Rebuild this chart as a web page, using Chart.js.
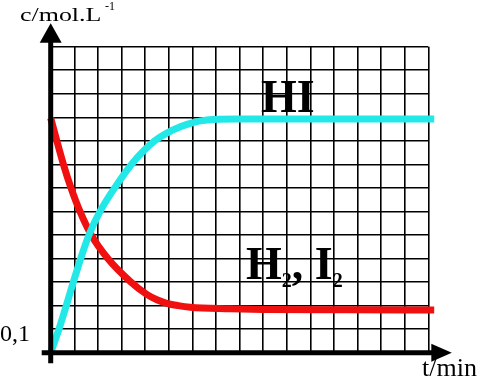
<!DOCTYPE html>
<html>
<head>
<meta charset="utf-8">
<script src="https://cdn.jsdelivr.net/npm/chart.js@4.4.0/dist/chart.umd.min.js"></script>
<style>
body { margin: 0; background: #fff; }
#wrap { position: relative; width: 479px; height: 377px; overflow: hidden; font-family: "Liberation Serif", "Times New Roman", serif; color: #000; }
#wrap canvas { position: absolute; left: 0; top: 0; }
.lbl { position: absolute; white-space: nowrap; }
</style>
</head>
<body>
<div id="wrap">
<canvas id="myChart" width="479" height="377"></canvas>
<div class="lbl" style="left:20px; top:5px; font-size:19.5px; line-height:19.5px; transform:scaleX(1.33); transform-origin:0 0;">c/mol.L</div>
<div class="lbl" style="left:105px; top:0px; font-size:12px; line-height:12px;">-1</div>
<div class="lbl" style="left:0px; top:321px; font-size:24px; line-height:24px;">0,1</div>
<div class="lbl" style="left:422px; top:355px; font-size:26px; line-height:26px;">t/min</div>
<div class="lbl" style="left:261px; top:74px; font-size:46px; line-height:46px; font-weight:bold;">HI</div>
<div class="lbl" style="left:246px; top:241px; font-size:46px; line-height:46px; font-weight:bold;">H<span style="font-size:20px; position:relative; top:8px;">2</span>, I<span style="font-size:20px; position:relative; top:8px;">2</span></div>
</div>
<script>
// HI concentration (grid units) over time (grid units)
const tHI = [0, 0.35, 0.66, 0.96, 1.27, 1.62, 2.09, 2.71, 3.42, 4.41, 5.49, 6.62, 7.89, 10, 13, 16.25];
const cHI = [0, 1.0, 2.0, 3.0, 4.0, 5.0, 6.0, 7.0, 8.0, 9.0, 9.6, 9.89, 9.93, 9.93, 9.93, 9.93];

// H2, I2
const tH2 = [0, 0.26, 0.54, 0.86, 1.24, 1.72, 2.42, 3.4, 4.07, 4.5, 4.92, 5.4, 5.91, 7.61, 9.0, 12.5, 16.25];
const cH2 = [9.97, 9.0, 8.0, 7.0, 6.0, 5.0, 4.0, 3.0, 2.48, 2.25, 2.1, 2.0, 1.93, 1.87, 1.84, 1.82, 1.81];

const xMax = 16;
const yMax = 13;

function punkti(t, c){
    return t.map((v, i) => ({x: v, y: c[i]}));
}

// thick axes with arrows
const strelice = {
    id: 'strelice',
    afterDatasetsDraw(chart){
        const ctx = chart.ctx;
        const a = chart.chartArea;
        ctx.save();
        ctx.fillStyle = '#000';
        ctx.strokeStyle = '#000';
        ctx.lineWidth = 5;
        // y axis
        ctx.beginPath();
        ctx.moveTo(a.left, a.bottom + 10.5);
        ctx.lineTo(a.left, a.top - 6);
        ctx.stroke();
        ctx.beginPath();
        ctx.moveTo(a.left, a.top - 23.5);
        ctx.lineTo(a.left - 11, a.top - 4);
        ctx.lineTo(a.left + 11, a.top - 4);
        ctx.closePath();
        ctx.fill();
        // x axis
        ctx.beginPath();
        ctx.moveTo(a.left - 9, a.bottom);
        ctx.lineTo(a.right + 6, a.bottom);
        ctx.stroke();
        ctx.beginPath();
        ctx.moveTo(a.right + 23.5, a.bottom);
        ctx.lineTo(a.right + 3, a.bottom - 9);
        ctx.lineTo(a.right + 3, a.bottom + 9);
        ctx.closePath();
        ctx.fill();
        ctx.restore();
    }
};

const config = {
    type: 'line',
    data: {
        datasets: [{
            label: 'HI',
            data: punkti(tHI, cHI),
            borderColor: '#22e8e8',
            borderWidth: 7,
            pointRadius: 0,
            cubicInterpolationMode: 'monotone',
            clip: false
        },
        {
            label: 'H2, I2',
            data: punkti(tH2, cH2),
            borderColor: '#f01010',
            borderWidth: 7,
            pointRadius: 0,
            cubicInterpolationMode: 'monotone',
            clip: false
        }]
    },
    options: {
        responsive: false,
        animation: false,
        layout: {
            padding: {left: 50.7, top: 46.7, right: 50.7, bottom: 24.3}
        },
        plugins: {
            legend: {display: false},
            tooltip: {enabled: false}
        },
        scales: {
            x: {
                type: 'linear',
                min: 0,
                max: xMax,
                ticks: {display: false, stepSize: 1},
                grid: {color: '#000', lineWidth: 1.6, drawTicks: false},
                border: {display: false}
            },
            y: {
                min: 0,
                max: yMax,
                ticks: {display: false, stepSize: 1},
                grid: {color: '#000', lineWidth: 1.6, drawTicks: false},
                border: {display: false}
            }
        }
    },
    plugins: [strelice]
};

let chart = new Chart(document.getElementById('myChart'), config);
</script>
</body>
</html>
